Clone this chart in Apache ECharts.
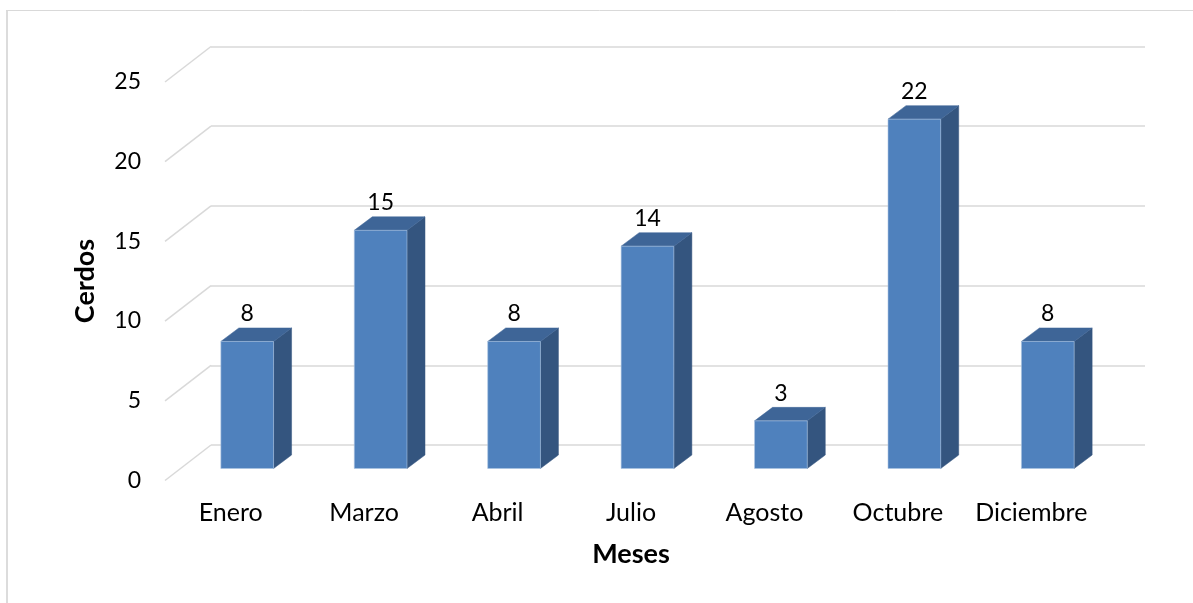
<!DOCTYPE html>
<html>
<head>
<meta charset="utf-8">
<script src="https://cdn.jsdelivr.net/npm/echarts@6/dist/echarts.min.js"></script>
<style>
html,body{margin:0;padding:0;background:#fff;}
#c{width:1193px;height:603px;}
</style>
</head>
<body>
<div id="c"></div>
<script>
const categories = ['Enero', 'Marzo', 'Abril', 'Julio', 'Agosto', 'Octubre', 'Diciembre'];
const values = [8, 15, 8, 14, 3, 22, 8];
const yTicks = [0, 5, 10, 15, 20, 25];
const xTitle = 'Meses';
const yTitle = 'Cerdos';

const FONT = 'Lato, "Open Sans", sans-serif';
const WALL_DX = 46, WALL_DY = -35.5;   // back wall offset from front plane
const BAR_DX = 18, BAR_DY = -13.5;     // bar depth
const GRID_COLOR = '#d9d9d9';

const chart = echarts.init(document.getElementById('c'), null, {renderer: 'canvas'});

const option = {
  backgroundColor: '#ffffff',
  animation: false,
  grid: [
    // front plane (labels)
    {left: 164, top: 81.5, width: 934, height: 399},
    // back wall
    {left: 211, top: 46.5, width: 934, height: 398.5},
    // bar plane
    {left: 180.5, top: 71.5, width: 934, height: 397}
  ],
  xAxis: [
    {
      gridIndex: 0, type: 'category', data: categories,
      axisLine: {show: false}, axisTick: {show: false},
      axisLabel: {interval: 0, margin: 20, color: '#000', fontSize: 25, fontFamily: FONT},
      name: xTitle, nameLocation: 'middle', nameGap: 60,
      nameTextStyle: {color: '#000', fontSize: 27, fontWeight: 'bold', fontFamily: FONT}
    },
    {gridIndex: 1, type: 'category', data: categories, show: false},
    {gridIndex: 2, type: 'category', data: categories, show: false}
  ],
  yAxis: [
    {
      gridIndex: 0, type: 'value', min: 0, max: 25, interval: 5,
      axisLine: {show: false}, axisTick: {show: false}, splitLine: {show: false},
      axisLabel: {margin: 23, color: '#000', fontSize: 23, fontFamily: FONT},
      name: yTitle, nameLocation: 'middle', nameGap: 65,
      nameTextStyle: {color: '#000', fontSize: 27, fontWeight: 'bold', fontFamily: FONT}
    },
    {
      gridIndex: 1, type: 'value', min: 0, max: 25, interval: 5,
      axisLine: {show: false}, axisTick: {show: false}, axisLabel: {show: false},
      splitLine: {show: true, lineStyle: {color: GRID_COLOR, width: 1.5}}
    },
    {gridIndex: 2, type: 'value', min: 0, max: 25, interval: 5, show: false}
  ],
  series: [
    {
      // side wall diagonal gridlines
      type: 'custom', xAxisIndex: 1, yAxisIndex: 1, clip: false, z: 1,
      data: yTicks.map(v => [0, v]),
      renderItem: function (params, api) {
        const p = api.coord([0, api.value(1)]);
        const x = params.coordSys.x;
        return {
          type: 'line',
          shape: {x1: x, y1: p[1], x2: x - WALL_DX, y2: p[1] - WALL_DY},
          style: {stroke: GRID_COLOR, lineWidth: 1.5}
        };
      }
    },
    {
      // 3D bars
      type: 'custom', xAxisIndex: 2, yAxisIndex: 2, clip: false, z: 3,
      data: values.map((v, i) => [i, v]),
      renderItem: function (params, api) {
        const i = api.value(0), v = api.value(1);
        const base = api.coord([i, 0]);
        const top = api.coord([i, v]);
        const w = api.size([1, 0])[0] * 0.395;
        const x0 = base[0] - w / 2, x1 = base[0] + w / 2;
        const yb = base[1], yt = top[1];
        return {
          type: 'group',
          children: [
            {
              type: 'polygon',
              shape: {points: [[x1, yb], [x1 + BAR_DX, yb + BAR_DY], [x1 + BAR_DX, yt + BAR_DY], [x1, yt]]},
              style: {fill: '#34557f', stroke: '#34557f', lineWidth: 0.5}
            },
            {
              type: 'polygon',
              shape: {points: [[x0, yt], [x1, yt], [x1 + BAR_DX, yt + BAR_DY], [x0 + BAR_DX, yt + BAR_DY]]},
              style: {fill: '#3e6597', stroke: '#3e6597', lineWidth: 0.5}
            },
            {
              type: 'rect',
              shape: {x: x0, y: yt, width: w, height: yb - yt},
              style: {fill: '#4f81bd', stroke: 'rgba(170,195,225,0.6)', lineWidth: 1}
            },
            {
              type: 'text',
              style: {
                text: String(v), x: base[0], y: yt + BAR_DY - 14,
                align: 'center', verticalAlign: 'middle',
                fill: '#000', fontSize: 23, fontFamily: FONT
              }
            }
          ]
        };
      }
    }
  ],
  graphic: [
    {type: 'line', shape: {x1: 7, y1: 10, x2: 7, y2: 603}, style: {stroke: '#dcdcdc', lineWidth: 2}, silent: true},
    {type: 'line', shape: {x1: 6, y1: 10.5, x2: 1193, y2: 10.5}, style: {stroke: '#d9d9d9', lineWidth: 1}, silent: true}
  ]
};

chart.setOption(option);
</script>
</body>
</html>
